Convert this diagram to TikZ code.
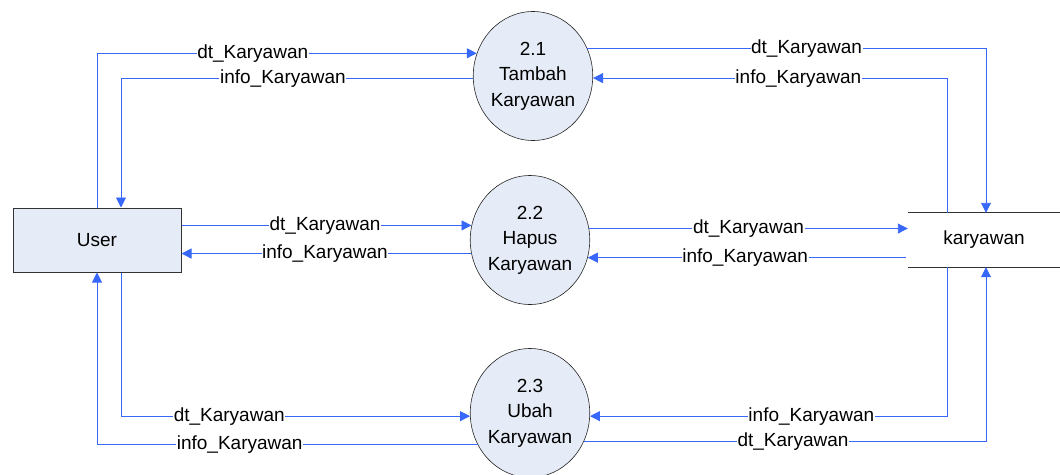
\documentclass[tikz,border=0pt]{standalone}
\usepackage{fontspec}
\setmainfont{Liberation Sans}
\usetikzlibrary{shapes.geometric,arrows.meta}
\definecolor{flowblue}{RGB}{56,104,250}
\definecolor{procfill}{RGB}{230,236,247}
\tikzset{
  flow/.style={draw=flowblue, line width=0.9pt, -{Triangle[length=10pt,width=10pt]}},
  lbl/.style={fill=white, inner sep=0.6pt, text=black, font=\fontsize{19}{22}\selectfont},
  proc/.style={ellipse, draw=black!85, line width=0.6pt, fill=procfill,
    minimum width=119pt, minimum height=129pt, inner sep=0pt, align=center,
    font=\fontsize{19}{25.5}\selectfont},
  entity/.style={rectangle, draw=black!80, line width=1pt, fill=procfill,
    minimum width=168pt, minimum height=64pt, font=\fontsize{19}{22}\selectfont},
  datastore/.style={rectangle, draw=none, minimum width=152pt, minimum height=54pt,
    font=\fontsize{19}{22}\selectfont}
}
\begin{document}
\begin{tikzpicture}[x=1pt, y=-1pt]
\useasboundingbox (0,0) rectangle (1060,474);

% external entity, processes and data store
\node[entity] (user) at (97,240) {User};
\node[proc] (p21) at (533,76) {2.1\\Tambah\\Karyawan};
\node[proc] (p22) at (530,240) {2.2\\Hapus\\Karyawan};
\node[proc] (p23) at (530,413) {2.3\\Ubah\\Karyawan};
\node[datastore] (store) at (984,240) {karyawan};
\draw[black!80, line width=1pt] (store.north west) -- (store.north east);
\draw[black!80, line width=1pt] (store.south west) -- (store.south east);

% attachment points on the sides of User and karyawan
\coordinate (uN) at ([xshift=24pt]user.north);
\coordinate (uS) at ([xshift=24pt]user.south);
\coordinate (sN) at ([xshift=-37pt]store.north);
\coordinate (sS) at ([xshift=-37pt]store.south);
\coordinate (sNd) at ([xshift=2pt]store.north);
\coordinate (sSd) at ([xshift=2pt]store.south);

% 2.1 Tambah Karyawan
\draw[flow] (user.north) -- (user.north |- p21.158)
  -- node[lbl, pos=0.41] {dt\_Karyawan} (p21.158);
\draw[flow] (p21.182) -- node[lbl, pos=0.54] {info\_Karyawan} (p21.182 -| uN) -- (uN);
\draw[flow] (p21.27) -- node[lbl, pos=0.55] {dt\_Karyawan} (p21.27 -| sNd) -- (sNd);
\draw[flow] (sN) -- (sN |- p21.358)
  -- node[lbl, pos=0.42] {info\_Karyawan} (p21.358);

% 2.2 Hapus Karyawan
\draw[flow] (p22.166 -| user.east) -- node[lbl, pos=0.495] {dt\_Karyawan} (p22.166);
\draw[flow] (p22.193) -- node[lbl, pos=0.505] {info\_Karyawan} (p22.193 -| user.east);
\draw[flow] (p22.11) -- node[lbl, pos=0.5] {dt\_Karyawan} (p22.11 -| store.west);
\draw[flow] ([xshift=-2pt]p22.343 -| store.west)
  -- node[lbl, pos=0.505] {info\_Karyawan} (p22.343);

% 2.3 Ubah Karyawan
\draw[flow] (uS) -- (uS |- p23.183)
  -- node[lbl, pos=0.31] {dt\_Karyawan} (p23.183);
\draw[flow] (p23.211) -- node[lbl, pos=0.625] {info\_Karyawan} (p23.211 -| user.south) -- (user.south);
\draw[flow] (sS) -- (sS |- p23.357)
  -- node[lbl, pos=0.38] {info\_Karyawan} (p23.357);
\draw[flow] (p23.332) -- node[lbl, pos=0.52] {dt\_Karyawan} (p23.332 -| sSd) -- (sSd);
\end{tikzpicture}
\end{document}
